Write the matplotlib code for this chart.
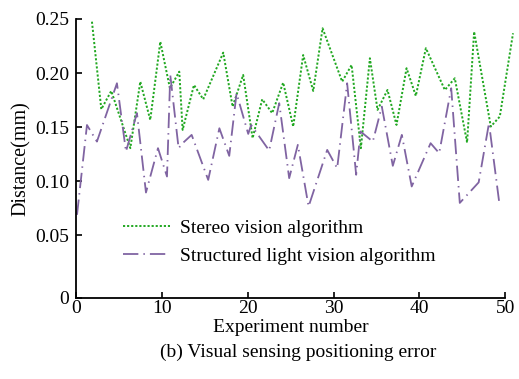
import matplotlib
matplotlib.use("Agg")
import matplotlib.pyplot as plt

plt.rcParams["font.family"] = ["Liberation Serif", "DejaVu Serif"]

# values
stereo_x = [1.86, 2.95, 4.11, 6.33, 7.49, 8.65, 9.82, 10.94, 12.03, 12.42,
            13.74, 14.82, 17.15, 18.24, 19.47, 20.57, 21.69, 22.85, 24.13, 25.3,
            26.46, 27.63, 28.72, 31.0, 32.1, 33.18, 34.23, 35.12, 36.28, 37.33,
            38.5, 39.58, 40.75, 42.96, 44.12, 45.55, 46.37, 48.31, 49.36, 50.9]
stereo_y = [0.2475, 0.1666, 0.1835, 0.1306, 0.1921, 0.1567, 0.229, 0.186, 0.2013, 0.1475,
            0.189, 0.1758, 0.2189, 0.169, 0.1983, 0.1398, 0.1758, 0.163, 0.1912, 0.1506,
            0.2167, 0.1835, 0.2414, 0.1921, 0.2075, 0.1306, 0.2137, 0.166, 0.1844, 0.1521,
            0.2045, 0.1789, 0.223, 0.1844, 0.1952, 0.1358, 0.2383, 0.1506, 0.1598, 0.2368]

struct_x = [0.12, 1.28, 2.44, 4.77, 5.82, 7.1, 8.15, 9.55, 10.6, 10.98,
            11.95, 12.42, 13.47, 15.4, 16.7, 17.85, 18.7, 20.06, 20.4, 22.5,
            23.67, 24.83, 25.84, 27.09, 29.26, 30.42, 31.58, 32.63, 33.14, 34.57,
            35.62, 36.9, 37.95, 39.1, 41.3, 42.3, 43.7, 44.7, 46.9, 48.1, 49.3]
struct_y = [0.069, 0.152, 0.1367, 0.1906, 0.1275, 0.163, 0.0896, 0.1306, 0.1044, 0.1983,
            0.1306, 0.1352, 0.1429, 0.1013, 0.149, 0.1235, 0.1814, 0.1438, 0.152, 0.1284,
            0.1722, 0.1029, 0.1337, 0.0767, 0.129, 0.1121, 0.1906, 0.106, 0.146, 0.1367,
            0.169, 0.1143, 0.1429, 0.0952, 0.1352, 0.126, 0.186, 0.08, 0.099, 0.1537, 0.08]

y_bottom = -0.0076   # axis floor sits a bit below the 0.05 grid; labelled "0"
ytick_vals = [y_bottom, 0.05, 0.10, 0.15, 0.20, 0.25]
ytick_labels = ["0", "0.05", "0.10", "0.15", "0.20", "0.25"]
xtick_vals = [0, 10, 20, 30, 40, 50]

fig = plt.figure(figsize=(5.19, 3.79), dpi=100)
ax = fig.add_axes([0.1464, 0.2145, 0.8272, 0.7354])

ax.plot(stereo_x, stereo_y, color="#22a822", lw=1.4, linestyle=(0, (1.1, 1.0)),
        clip_on=False, label="Stereo vision algorithm")
ax.plot(struct_x, struct_y, color="#8064a2", lw=1.3, linestyle=(0, (8.5, 2.8, 0.8, 2.8)),
        clip_on=False, label="Structured light vision algorithm")

ax.set_xlim(0, 50)
ax.set_ylim(y_bottom, 0.25)
ax.set_xticks(xtick_vals)
ax.set_yticks(ytick_vals)
ax.set_yticklabels(ytick_labels)
for s in ("top", "right"):
    ax.spines[s].set_visible(False)
for s in ("left", "bottom"):
    ax.spines[s].set_linewidth(1.3)
ax.tick_params(direction="in", length=4, width=1.2, labelsize=14)
ax.tick_params(axis="x", pad=2)
ax.tick_params(axis="y", pad=5)

ax.set_xlabel("Experiment number", fontsize=14, labelpad=1)
ax.set_ylabel("Distance(mm)", fontsize=14.5, labelpad=3)
fig.text(0.575, 0.07, "(b) Visual sensing positioning error", fontsize=14,
         ha="center", va="center")

ax.legend(loc="center left", bbox_to_anchor=(0.11, 0.2), frameon=False, fontsize=14,
          handlelength=2.4, handletextpad=0.5, borderpad=0, borderaxespad=0,
          labelspacing=0.55)

fig.savefig("out.png", dpi=100)
